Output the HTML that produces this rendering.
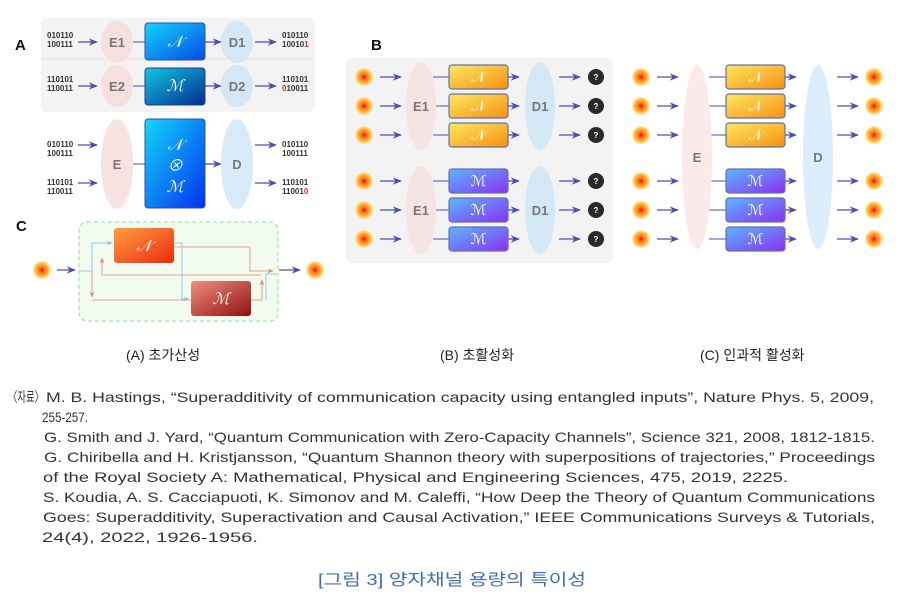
<!DOCTYPE html>
<html><head><meta charset="utf-8">
<style>
html,body{margin:0;padding:0;background:#fff;}
svg{display:block;}
text{font-family:"Liberation Sans","Noto Sans CJK KR",sans-serif;}
.ref{font-size:14px;fill:#333;}
</style></head>
<body>
<svg id="s" width="906" height="597" viewBox="0 0 906 597" xmlns="http://www.w3.org/2000/svg">
<defs>
<radialGradient id="star"><stop offset="0" stop-color="#f01010"/><stop offset="0.35" stop-color="#ff7a20"/><stop offset="0.75" stop-color="#ffc040"/><stop offset="1" stop-color="#ffe090" stop-opacity="0.6"/></radialGradient>
<linearGradient id="gN" x1="0" y1="0" x2="1" y2="1"><stop offset="0" stop-color="#ffe860"/><stop offset="1" stop-color="#f59010"/></linearGradient>
<linearGradient id="gM" x1="0" y1="0" x2="1" y2="1"><stop offset="0" stop-color="#5ab8ff"/><stop offset="1" stop-color="#8a30f0"/></linearGradient>
<linearGradient id="gA1" x1="0" y1="0" x2="1" y2="1"><stop offset="0" stop-color="#10d8f8"/><stop offset="1" stop-color="#0848e8"/></linearGradient>
<linearGradient id="gA2" x1="0" y1="0" x2="1" y2="1"><stop offset="0" stop-color="#10c8e0"/><stop offset="1" stop-color="#062a90"/></linearGradient>
<linearGradient id="gA3" x1="0" y1="0" x2="1" y2="1"><stop offset="0" stop-color="#12d8f8"/><stop offset="1" stop-color="#0430f0"/></linearGradient>
<linearGradient id="gCN" x1="0" y1="0" x2="1" y2="1"><stop offset="0" stop-color="#ffa040"/><stop offset="1" stop-color="#f02810"/></linearGradient>
<linearGradient id="gCM" x1="0" y1="0" x2="1" y2="1"><stop offset="0" stop-color="#f09080"/><stop offset="1" stop-color="#901010"/></linearGradient>
<marker id="ar" viewBox="0 0 10 10" refX="9" refY="5" markerWidth="7" markerHeight="7" orient="auto"><path d="M0,1 L10,5 L0,9 L3,5z" fill="#4a50b0"/></marker>
<marker id="arr" viewBox="0 0 10 10" refX="9" refY="5" markerWidth="6" markerHeight="6" orient="auto"><path d="M0,1 L10,5 L0,9 L3,5z" fill="#f08070"/></marker>
<marker id="arb" viewBox="0 0 10 10" refX="9" refY="5" markerWidth="6" markerHeight="6" orient="auto"><path d="M0,1 L10,5 L0,9 L3,5z" fill="#80c8f0"/></marker>
</defs>

<text x="15" y="50" font-size="15" font-weight="bold" fill="#111">A</text>
<rect x="41" y="18" width="274" height="94" rx="6" fill="#f3f3f3"/>
<line x1="41" y1="59" x2="315" y2="59" stroke="#e2e2e2"/>
<g font-size="8" font-weight="bold" fill="#333">
<text x="47" y="38">010110</text><text x="47" y="47">100111</text>
<text x="47" y="82">110101</text><text x="47" y="91">110011</text>
<text x="282" y="38">010110</text><text x="282" y="47">10010<tspan fill="#e03020">1</tspan></text>
<text x="282" y="82">110101</text><text x="282" y="91"><tspan fill="#e03020">0</tspan>10011</text>
<text x="47" y="147">010110</text><text x="47" y="156">100111</text>
<text x="47" y="185">110101</text><text x="47" y="194">110011</text>
<text x="282" y="147">010110</text><text x="282" y="156">100111</text>
<text x="282" y="185">110101</text><text x="282" y="194">11001<tspan fill="#e03020">0</tspan></text>
</g>
<g stroke="#4a50b0" stroke-width="1.3" marker-end="url(#ar)">
<line x1="78" y1="42" x2="97" y2="42"/><line x1="78" y1="86" x2="97" y2="86"/>
<line x1="255" y1="42" x2="276" y2="42"/><line x1="255" y1="86" x2="276" y2="86"/>
<line x1="78" y1="145" x2="97" y2="145"/><line x1="78" y1="183" x2="97" y2="183"/>
<line x1="255" y1="145" x2="276" y2="145"/><line x1="255" y1="183" x2="276" y2="183"/>
<line x1="205" y1="42" x2="221" y2="42"/><line x1="205" y1="86" x2="221" y2="86"/><line x1="205" y1="164" x2="221" y2="164"/>
</g>
<g stroke="#4a50b0" stroke-width="1"><line x1="133" y1="42" x2="145" y2="42"/><line x1="133" y1="86" x2="145" y2="86"/><line x1="133" y1="164" x2="145" y2="164"/></g>
<ellipse cx="117" cy="42" rx="16" ry="21" fill="#f5dfdf"/>
<ellipse cx="117" cy="86" rx="16" ry="21" fill="#f5dfdf"/>
<ellipse cx="237" cy="42" rx="16" ry="21" fill="#d3e7f5"/>
<ellipse cx="237" cy="86" rx="16" ry="21" fill="#d3e7f5"/>
<ellipse cx="117" cy="164" rx="16" ry="45" fill="#f8e2e2"/>
<ellipse cx="237" cy="164" rx="16" ry="45" fill="#d8eaf8"/>
<rect x="145" y="23" width="60" height="37" rx="3" fill="url(#gA1)" stroke="#3050a0"/>
<rect x="145" y="68" width="60" height="37" rx="3" fill="url(#gA2)" stroke="#204080"/>
<rect x="145" y="119" width="60" height="89" rx="3" fill="url(#gA3)" stroke="#3050a0"/>
<g font-size="13" font-weight="bold" fill="#777" text-anchor="middle">
<text x="117" y="47">E1</text><text x="117" y="91">E2</text><text x="237" y="47">D1</text><text x="237" y="91">D2</text>
<text x="117" y="169">E</text><text x="237" y="169">D</text>
</g>
<g font-family="Liberation Serif" font-style="italic" font-size="16" fill="#e8f4ff" text-anchor="middle">
<text x="175" y="47">𝒩</text><text x="175" y="91">ℳ</text>
<text x="175" y="150">𝒩</text><text x="175" y="171">⊗</text><text x="175" y="192">ℳ</text>
</g>

<text x="16" y="231" font-size="15" font-weight="bold" fill="#111">C</text>
<rect x="79" y="222" width="199" height="99" rx="8" fill="#f1fbee" stroke="#90e090" stroke-dasharray="4,3"/>
<circle cx="42" cy="270" r="9" fill="url(#star)"/>
<circle cx="315" cy="270" r="9" fill="url(#star)"/>
<line x1="57" y1="270" x2="75" y2="270" stroke="#4a50b0" stroke-width="1.3" marker-end="url(#ar)"/>
<line x1="279" y1="270" x2="300" y2="270" stroke="#4a50b0" stroke-width="1.3" marker-end="url(#ar)"/>
<g fill="none" stroke-width="1">
<path d="M79,271 H92 V243 H112" stroke="#90c8f0" marker-end="url(#arb)"/>
<path d="M174,243 H182 V299 H189" stroke="#90c8f0" marker-end="url(#arb)"/>
<path d="M92,271 V297" stroke="#f0a090" marker-end="url(#arr)"/>
<path d="M92,300 H191" stroke="#f0a090"/>
<path d="M174,247 H250 V271 H273" stroke="#f0a090" marker-end="url(#arr)"/>
<path d="M261,275 H102 V258" stroke="#f0a090" marker-end="url(#arr)"/>
<path d="M251,300 H262 V280" stroke="#f0a090" marker-end="url(#arr)"/>
<path d="M266,300 V274 H277" stroke="#90c8f0"/>
</g>
<rect x="114" y="228" width="60" height="35" rx="3" fill="url(#gCN)"/>
<rect x="191" y="281" width="60" height="35" rx="3" fill="url(#gCM)"/>
<g font-family="Liberation Serif" font-style="italic" font-size="16" fill="#fff0e8" text-anchor="middle">
<text x="144" y="251">𝒩</text><text x="221" y="304">ℳ</text>
</g>

<text x="371" y="50" font-size="15" font-weight="bold" fill="#111">B</text>
<rect x="346" y="58" width="267" height="205" rx="6" fill="#f3f3f3"/>
<g id="gB"></g>
<g id="gC3"></g>

<g font-size="14" fill="#222">
<text x="126" y="360">(A) 초가산성</text>
<text x="440" y="360">(B) 초활성화</text>
<text x="700" y="360">(C) 인과적 활성화</text>
</g>
<g class="ref">
<text x="8" y="402" textLength="36" lengthAdjust="spacingAndGlyphs">〈자료〉</text>
<text x="46" y="402" textLength="828" lengthAdjust="spacingAndGlyphs">M. B. Hastings, “Superadditivity of communication capacity using entangled inputs”, Nature Phys. 5, 2009,</text>
<text x="42" y="422" textLength="46" lengthAdjust="spacingAndGlyphs">255-257.</text>
<text x="44" y="442" textLength="831" lengthAdjust="spacingAndGlyphs">G. Smith and J. Yard, “Quantum Communication with Zero-Capacity Channels”, Science 321, 2008, 1812-1815.</text>
<text x="44" y="462" textLength="831" lengthAdjust="spacingAndGlyphs">G. Chiribella and H. Kristjansson, “Quantum Shannon theory with superpositions of trajectories,” Proceedings</text>
<text x="43" y="482" textLength="745" lengthAdjust="spacingAndGlyphs">of the Royal Society A: Mathematical, Physical and Engineering Sciences, 475, 2019, 2225.</text>
<text x="43" y="502" textLength="832" lengthAdjust="spacingAndGlyphs">S. Koudia, A. S. Cacciapuoti, K. Simonov and M. Caleffi, “How Deep the Theory of Quantum Communications</text>
<text x="43" y="522" textLength="832" lengthAdjust="spacingAndGlyphs">Goes: Superadditivity, Superactivation and Causal Activation,” IEEE Communications Surveys &amp; Tutorials,</text>
<text x="42" y="542" textLength="216" lengthAdjust="spacingAndGlyphs">24(4), 2022, 1926-1956.</text>
</g>
<text x="318" y="585" font-size="16" fill="#3f6fb0" textLength="268" lengthAdjust="spacingAndGlyphs">[그림 3] 양자채널 용량의 특이성</text>
</svg>
<script>
var NS="http://www.w3.org/2000/svg";
function el(p,t,a,txt){var e=document.createElementNS(NS,t);for(var k in a)e.setAttribute(k,a[k]);if(txt)e.textContent=txt;p.appendChild(e);return e;}
function panel(g,sx,ax,ex,bx,dx,ox,lab,q){
 var rows=[77,106,135,181,210,239];
 rows.forEach(function(y,i){
  el(g,'circle',{cx:sx,cy:y,r:9,fill:'url(#star)'});
  el(g,'line',{x1:ax,y1:y,x2:ax+21,y2:y,stroke:'#4a50b0','stroke-width':1.3,'marker-end':'url(#ar)'});
  el(g,'line',{x1:ex,y1:y,x2:bx,y2:y,stroke:'#4a50b0','stroke-width':1});
  el(g,'line',{x1:bx+59,y1:y,x2:bx+70,y2:y,stroke:'#4a50b0','stroke-width':1.3,'marker-end':'url(#ar)'});
  el(g,'line',{x1:dx+19,y1:y,x2:dx+40,y2:y,stroke:'#4a50b0','stroke-width':1.3,'marker-end':'url(#ar)'});
  if(q){el(g,'circle',{cx:ox,cy:y,r:8,fill:'#2a2a2a'});el(g,'text',{x:ox,y:y+3,'font-size':8,'font-weight':'bold',fill:'#fff','text-anchor':'middle'},'?');}
  else el(g,'circle',{cx:ox,cy:y,r:9,fill:'url(#star)'});
 });
 if(lab){
  [106,210].forEach(function(c){
   el(g,'ellipse',{cx:ex-12,cy:c,rx:15,ry:44,fill:'#f6e3e3'});
   el(g,'ellipse',{cx:dx,cy:c,rx:15,ry:44,fill:'#d3e7f5'});
   el(g,'text',{x:ex-12,y:c+5,'font-size':13,'font-weight':'bold',fill:'#777','text-anchor':'middle'},'E1');
   el(g,'text',{x:dx,y:c+5,'font-size':13,'font-weight':'bold',fill:'#777','text-anchor':'middle'},'D1');
  });
 } else {
  el(g,'ellipse',{cx:ex-12,cy:157,rx:15,ry:92,fill:'#fbeaea'});
  el(g,'ellipse',{cx:dx,cy:157,rx:15,ry:92,fill:'#dcedfb'});
  el(g,'text',{x:ex-12,y:162,'font-size':13,'font-weight':'bold',fill:'#777','text-anchor':'middle'},'E');
  el(g,'text',{x:dx,y:162,'font-size':13,'font-weight':'bold',fill:'#777','text-anchor':'middle'},'D');
 }
 rows.forEach(function(y,i){
  var n=i<3;
  el(g,'rect',{x:bx,y:y-12,width:59,height:24,rx:3,fill:n?'url(#gN)':'url(#gM)',stroke:'#6670a8','stroke-width':1.2});
  el(g,'text',{x:bx+29.5,y:y+5,'font-family':'Liberation Serif','font-size':15,fill:'#fff8e8','text-anchor':'middle'},n?'𝒩':'ℳ');
 });
}
panel(document.getElementById('gB'),364,380,433,449,540,596,true,true);
panel(document.getElementById('gC3'),641,657,709,726,818,874,false,false);
</script>
</body></html>
